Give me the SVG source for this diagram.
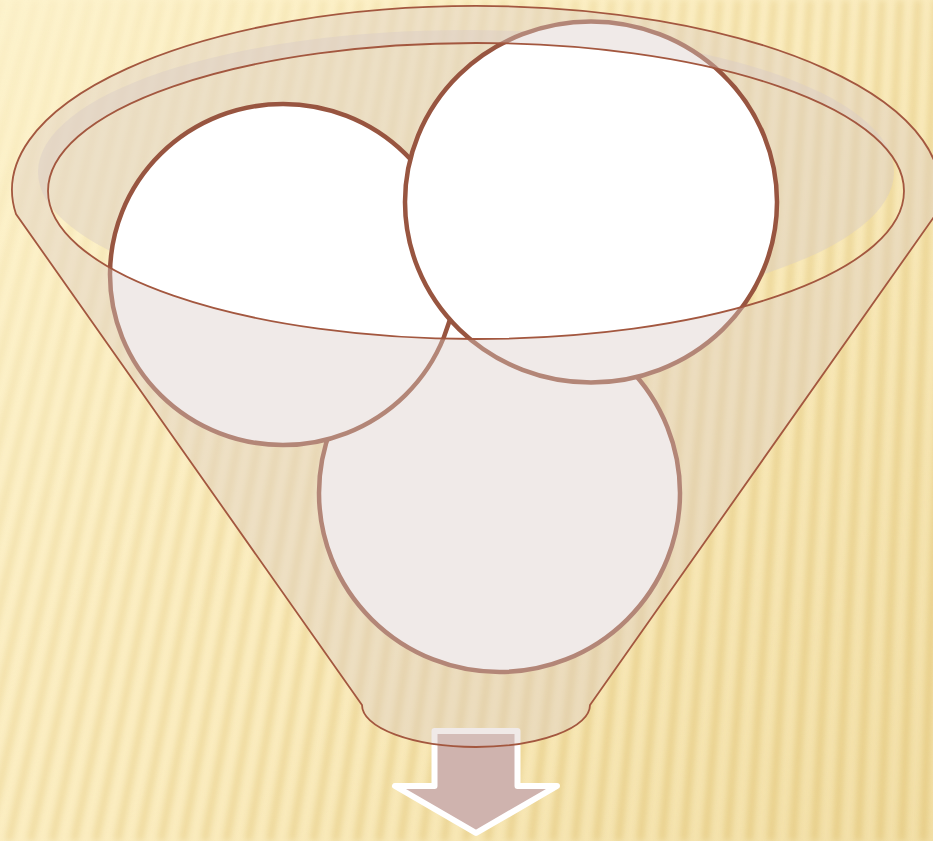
<svg xmlns="http://www.w3.org/2000/svg" width="933" height="841" viewBox="0 0 933 841">
  <defs>
    <linearGradient id="bgGrad" x1="0" y1="0" x2="933" y2="841" gradientUnits="userSpaceOnUse">
      <stop offset="0" stop-color="#fdf3cd"/>
      <stop offset="0.5" stop-color="#fbedc0"/>
      <stop offset="1" stop-color="#f2dfa6"/>
    </linearGradient>
    <linearGradient id="stripeFade" x1="0" y1="0" x2="933" y2="841" gradientUnits="userSpaceOnUse">
      <stop offset="0" stop-color="#fff" stop-opacity="0.08"/>
      <stop offset="0.45" stop-color="#fff" stop-opacity="0.45"/>
      <stop offset="1" stop-color="#fff" stop-opacity="0.8"/>
    </linearGradient>
    <mask id="stripeMask" maskUnits="userSpaceOnUse" x="0" y="0" width="933" height="841">
      <rect x="0" y="0" width="933" height="841" fill="url(#stripeFade)"/>
    </mask>
    <filter id="soft" x="-5%" y="-5%" width="110%" height="110%">
      <feGaussianBlur stdDeviation="3.2"/>
    </filter>
  </defs>
  <style>
    .stripe { stroke: #e2c67a; stroke-width: 7; fill: none; }
    .overlay { fill: rgb(218,203,198); }
    .funnel-line { fill: none; stroke: #a3573f; stroke-width: 1.8; }
    .ball { fill: #ffffff; stroke: #985540; stroke-width: 4.5; }
    .arrow-shape { fill: #cfb3ae; stroke: #ffffff; stroke-width: 6; stroke-linejoin: round; }
  </style>

  <!-- background -->
  <g id="background">
    <rect x="0" y="0" width="933" height="841" fill="url(#bgGrad)"/>
    <g mask="url(#stripeMask)">
      <path class="stripe" filter="url(#soft)" d="M0,0L-231,841M18,0L-209.2,841M36,0L-187.4,841M54,0L-165.7,841M72,0L-143.9,841M90,0L-122.1,841M108,0L-100.3,841M126,0L-78.5,841M144,0L-56.8,841M162,0L-35,841M180,0L-13.2,841M198,0L8.6,841M216,0L30.4,841M234,0L52.1,841M252,0L73.9,841M270,0L95.7,841M288,0L117.5,841M306,0L139.3,841M324,0L161,841M342,0L182.8,841M360,0L204.6,841M378,0L226.4,841M396,0L248.2,841M414,0L269.9,841M432,0L291.7,841M450,0L313.5,841M468,0L335.3,841M486,0L357.1,841M504,0L378.8,841M522,0L400.6,841M540,0L422.4,841M558,0L444.2,841M576,0L466,841M594,0L487.7,841M612,0L509.5,841M630,0L531.3,841M648,0L553.1,841M666,0L574.9,841M684,0L596.5,841M702,0L618.4,841M720,0L640.2,841M738,0L662,841M756,0L683.8,841M774,0L705.5,841M792,0L727.3,841M810,0L749.1,841M828,0L770.9,841M846,0L792.7,841M864,0L814.4,841M882,0L836.2,841M900,0L858,841M918,0L879.8,841M936,0L901.6,841M954,0L923.3,841M972,0L945.1,841"/>
    </g>
  </g>

  <!-- back of funnel (inside) -->
  <g id="funnel-back">
    <ellipse class="overlay" cx="466" cy="172" rx="428" ry="142" fill-opacity="0.45"/>
  </g>

  <!-- circles (nodes) -->
  <g id="circle-bottom">
    <ellipse class="ball" cx="499.5" cy="493" rx="180.5" ry="179"/>
  </g>
  <g id="circle-left">
    <ellipse class="ball" cx="283" cy="274.5" rx="173" ry="170.5"/>
  </g>
  <g id="circle-top-right">
    <ellipse class="ball" cx="591" cy="202" rx="186" ry="180.5"/>
  </g>

  <!-- output arrow -->
  <g id="connectors">
    <path class="arrow-shape" d="M434.5,731 H517.5 V786 H557 L476,833 L395,786 H434.5 Z"/>
  </g>

  <!-- front of funnel -->
  <g id="funnel-front">
    <path class="overlay" fill-opacity="0.41" fill-rule="evenodd" d="M16,214 A464,184 0 1 1 936,214 L590,705 A114,42 0 0 1 362,705 Z M48,191 A428,148 0 1 0 904,191 A428,148 0 1 0 48,191 Z"/>
    <path class="funnel-line" d="M16,214 A464,184 0 1 1 936,214 L590,705 A114,42 0 0 1 362,705 Z"/>
    <ellipse class="funnel-line" cx="476" cy="191" rx="428" ry="148"/>
  </g>
</svg>
